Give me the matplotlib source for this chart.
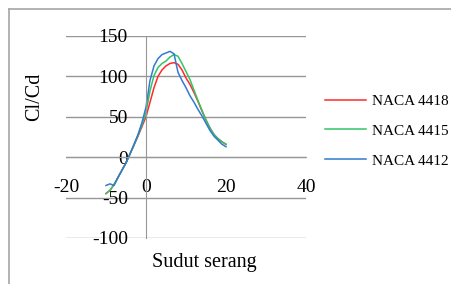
import matplotlib
matplotlib.use('Agg')
import matplotlib.pyplot as plt
from matplotlib.lines import Line2D

# angle of attack (deg) and lift/drag ratio per airfoil
angle = [-10, -9, -8, -7, -6, -5, -4, -3, -2, -1, 0, 1, 2, 3, 4, 5, 6, 7, 8, 9,
         10, 11, 12, 13, 14, 15, 16, 17, 18, 19, 20]
naca_4418 = [-45, -41, -34, -25, -16, -7, 4, 15, 26, 38, 50, 68, 86, 100, 108, 113,
             116, 117, 115, 108, 98, 90, 80, 69, 57, 46, 36, 28, 23, 19, 16]
naca_4415 = [-45, -41, -34, -25, -16, -7, 4, 15, 27, 40, 55, 82, 101, 111, 116, 119,
             124, 127, 125, 116, 106, 96, 83, 70, 58, 46, 36, 28, 23, 19, 16]
naca_4412 = [-35, -33, -35, -25, -16, -7, 4, 16, 28, 43, 62, 95, 113, 122, 127, 129,
             131, 128, 105, 95, 86, 76, 68, 59, 51, 42, 33, 26, 21, 16, 13]

series = [('NACA 4418', naca_4418, '#FF2A2A'),
          ('NACA 4415', naca_4415, '#33C466'),
          ('NACA 4412', naca_4412, '#2F7BD0')]

y_ticks = [-100, -50, 0, 50, 100, 150]
x_ticks = [-20, 0, 20, 40]

W, H = 452, 284
plt.rcParams['font.family'] = ['Liberation Serif', 'DejaVu Serif']
plt.rcParams['axes.unicode_minus'] = False
fig = plt.figure(figsize=(W / 100, H / 100), dpi=100)
ax = fig.add_axes([66 / W, (H - 238) / H, 240 / W, 202 / H])

for name, vals, col in series:
    ax.plot(angle, vals, color=col, lw=1.1, label=name)

grid_c = '#979797'
ax.set_xlim(-20, 40)
ax.set_ylim(-100, 150)
ax.set_yticks(y_ticks)
ax.set_xticks(x_ticks)
ax.yaxis.grid(True, color=grid_c, lw=1)
ax.set_axisbelow(True)
for s in ('top', 'right'):
    ax.spines[s].set_visible(False)
ax.spines['left'].set_position(('data', 0))
ax.spines['bottom'].set_position(('data', 0))
ax.spines['left'].set_color(grid_c)
ax.spines['bottom'].set_color(grid_c)
ax.tick_params(axis='both', length=0, labelsize=14, colors='black')
ax.tick_params(axis='y', pad=13)
ax.tick_params(axis='x', pad=16)

fig.text(35 / W, 1 - 97 / H, 'Cl/Cd', rotation=90, fontsize=14.5,
         ha='center', va='center')
fig.text(204 / W, 1 - 263 / H, 'Sudut serang', fontsize=14.5,
         ha='center', va='center')

ax.legend(loc='center left', bbox_to_anchor=(325 / W, 1 - 131 / H),
          bbox_transform=fig.transFigure, frameon=False, fontsize=11,
          handlelength=2.7, handletextpad=0.35, labelspacing=1.05,
          borderpad=0, borderaxespad=0)

# chart border (left and top edges visible in the crop)
fig.add_artist(Line2D([8.5 / W, 8.5 / W], [0, 1 - 8.5 / H], color='#A6A6A6',
                      lw=1.2, transform=fig.transFigure))
fig.add_artist(Line2D([8.5 / W, 1], [1 - 8.5 / H, 1 - 8.5 / H], color='#A6A6A6',
                      lw=1.2, transform=fig.transFigure))

fig.savefig('out.png', dpi=100)
